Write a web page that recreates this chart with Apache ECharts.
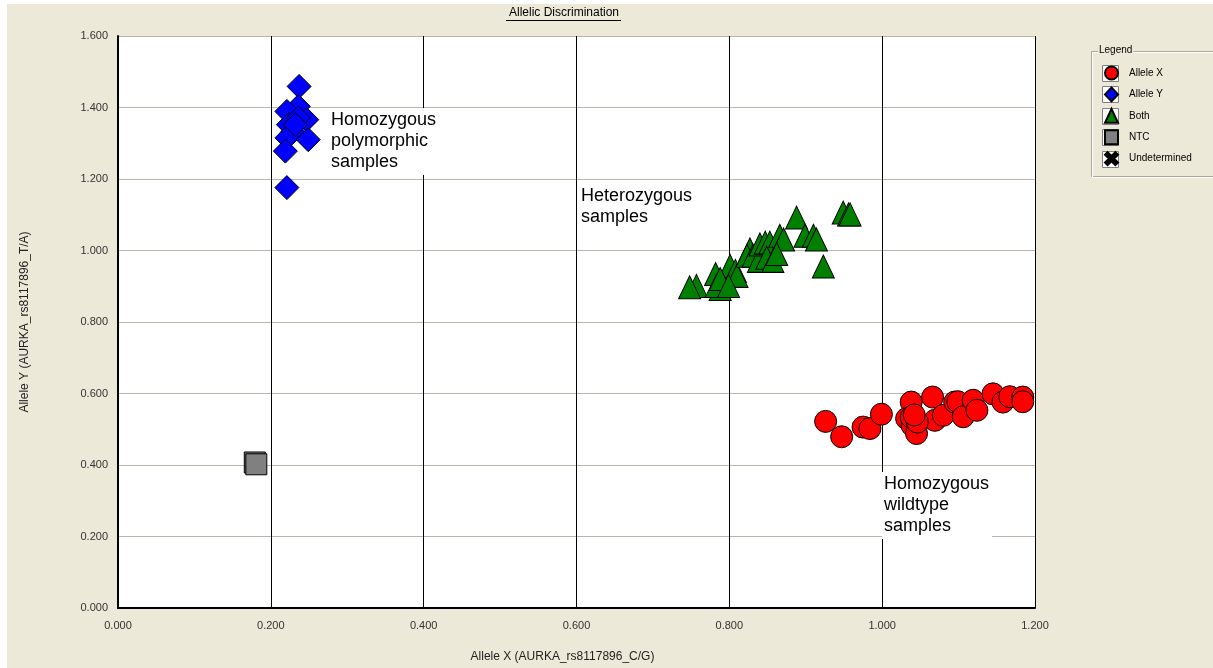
<!DOCTYPE html>
<html>
<head>
<meta charset="utf-8">
<script src="https://cdn.jsdelivr.net/npm/echarts@6/dist/echarts.min.js"></script>
<style>
html,body{margin:0;padding:0;background:#ECE9D8;}
#chart{width:1213px;height:668px;}
</style>
</head>
<body>
<div id="chart"></div>
<script>
// ---- data ----
var seriesNames = ['Allele X', 'Allele Y', 'Both', 'NTC', 'Undetermined'];

var alleleX = [
  [0.926,0.522],[0.947,0.479],[0.975,0.506],[0.984,0.502],[0.999,0.542],
  [1.038,0.576],[1.032,0.530],[1.039,0.511],[1.045,0.488],[1.038,0.534],
  [1.066,0.590],[1.069,0.525],[1.080,0.539],[1.095,0.576],[1.099,0.577],
  [1.106,0.535],[1.119,0.581],[1.124,0.553],[1.145,0.599],[1.158,0.576],
  [1.167,0.591],[1.184,0.590],[1.184,0.577],[1.046,0.520],[1.042,0.540]
];

var alleleY = [
  [0.237,1.459],[0.236,1.403],[0.221,1.389],[0.247,1.366],[0.223,1.352],
  [0.229,1.333],[0.221,1.315],[0.249,1.310],[0.219,1.278],[0.221,1.176],
  [0.236,1.371],[0.232,1.352]
];

var both = [
  [0.888,1.092],[0.899,1.041],[0.910,1.041],[0.914,1.031],[0.923,0.955],
  [0.949,1.106],[0.956,1.101],[0.958,1.101],[0.757,0.901],[0.748,0.897],
  [0.782,0.934],[0.788,0.892],[0.783,0.901],[0.801,0.957],[0.808,0.943],
  [0.810,0.929],[0.827,1.003],[0.823,0.985],[0.831,0.985],[0.838,0.971],
  [0.840,1.017],[0.847,1.022],[0.853,1.022],[0.849,0.980],[0.857,0.971],
  [0.866,1.041],[0.871,1.031],[0.862,0.990],[0.788,0.920],[0.799,0.901]
];

var ntc = [[0.179,0.407],[0.181,0.402]];
var undetermined = [];

var xTicks = [0, 0.2, 0.4, 0.6, 0.8, 1.0, 1.2];
var yTicks = [0, 0.2, 0.4, 0.6, 0.8, 1.0, 1.2, 1.4, 1.6];

var titleText = 'Allelic Discrimination';
var xName = 'Allele X (AURKA_rs8117896_C/G)';
var yName = 'Allele Y (AURKA_rs8117896_T/A)';

// annotations: text + top-left anchor in data coordinates
var annoTexts = ['Homozygous\npolymorphic\nsamples', 'Heterozygous\nsamples', 'Homozygous\nwildtype\nsamples'];
var annoAnchors = [[0.2755, 1.3995], [0.6034, 1.1873], [1.0003, 0.3818]];

// ---- chart ----
var FONT = '"Liberation Sans", Arial, sans-serif';
var chart = echarts.init(document.getElementById('chart'), null, {renderer: 'canvas'});

var crossPath = 'path://M2,0 L5,3 L8,0 L10,2 L7,5 L10,8 L8,10 L5,7 L2,10 L0,8 L3,5 L0,2 Z';

var legendTop = 65, legendStep = 21.4, legendItem = 14;

function fmt(v) { return v.toFixed(3); }

var decor = [
  {type:'rect', shape:{x:0,y:0,width:1213,height:4}, style:{fill:'#ffffff'}, z:0, silent:true},
  {type:'rect', shape:{x:0,y:0,width:7,height:668}, style:{fill:'#ffffff'}, z:0, silent:true},
  // legend group box (etched)
  {type:'rect', shape:{x:1091.5,y:51.5,width:140,height:125}, style:{fill:null, stroke:'#aca899', lineWidth:1}, z:1, silent:true},
  {type:'rect', shape:{x:1092.5,y:52.5,width:140,height:125}, style:{fill:null, stroke:'#ffffff', lineWidth:1}, z:1, silent:true},
  {type:'text', x:1098, y:45, style:{text:'Legend', fill:'#000', font:'10px ' + FONT, backgroundColor:'#ECE9D8', padding:[0,1,0,1]}, z:2, silent:true},
  // underline of the title
  {type:'line', shape:{x1:506, y1:20.5, x2:621, y2:20.5}, style:{stroke:'#000', lineWidth:1}, z:2, silent:true}
];
for (var i = 0; i < seriesNames.length; i++) {
  var cy = legendTop + 8 + i * legendStep;
  decor.push({type:'rect', shape:{x:1102.5, y:Math.round(cy - 8) + 0.5, width:16, height:16},
    style:{fill:'#ffffff', stroke:'#808080', lineWidth:1}, z:2, silent:true});
}

function scatter(name, data, symbol, size, color) {
  return {
    name: name, type: 'scatter', data: data, symbol: symbol, symbolSize: size,
    itemStyle: {color: color, borderColor: '#000', borderWidth: 1, opacity: 1},
    emphasis: {disabled: true}, z: 3
  };
}

chart.setOption({
  backgroundColor: '#ECE9D8',
  animation: false,
  textStyle: {fontFamily: FONT},
  title: {
    text: titleText, left: 564, top: 6, textAlign: 'center', padding: 0,
    textStyle: {fontSize: 12, fontWeight: 'normal', color: '#000', fontFamily: FONT, lineHeight: 14}
  },
  legend: {
    orient: 'vertical', left: 1104, top: legendTop, padding: 0,
    itemWidth: 13, itemHeight: legendItem, itemGap: legendStep - 16,
    data: seriesNames, z: 5,
    selectedMode: false,
    textStyle: {fontSize: 10, color: '#000', fontFamily: FONT, padding: [0,0,0,6], lineHeight: 16, height: 16}
  },
  grid: {
    left: 118, right: 178, top: 36, bottom: 58,
    show: true, backgroundColor: '#ffffff', borderWidth: 0
  },
  xAxis: {
    type: 'value', min: xTicks[0], max: xTicks[xTicks.length - 1], interval: 0.2,
    name: xName, nameLocation: 'middle', nameGap: 43,
    nameTextStyle: {fontSize: 12, color: '#222', fontFamily: FONT, padding: [0, 28, 0, 0]},
    axisLine: {show: true, onZero: false, lineStyle: {color: '#000', width: 2}},
    axisTick: {show: false},
    axisLabel: {formatter: fmt, fontSize: 11, color: '#333', margin: 12, fontFamily: FONT},
    splitLine: {show: true, lineStyle: {color: '#000', width: 1}}
  },
  yAxis: {
    type: 'value', min: yTicks[0], max: yTicks[yTicks.length - 1], interval: 0.2,
    name: yName, nameLocation: 'middle', nameGap: 87, nameRotate: 90,
    nameTextStyle: {fontSize: 12, color: '#222', fontFamily: FONT},
    axisLine: {show: true, onZero: false, lineStyle: {color: '#000', width: 2}},
    axisTick: {show: false},
    axisLabel: {formatter: fmt, fontSize: 11, color: '#333', margin: 10, fontFamily: FONT},
    splitLine: {show: true, lineStyle: {color: '#b9b6aa', width: 1}}
  },
  graphic: decor,
  series: [
    scatter(seriesNames[0], alleleX, 'circle', 22, '#ff0000'),
    scatter(seriesNames[1], alleleY, 'diamond', 24, '#0000ff'),
    scatter(seriesNames[2], both, 'triangle', [22, 23], '#008000'),
    scatter(seriesNames[3], ntc, 'rect', 21, '#808080'),
    scatter(seriesNames[4], undetermined, crossPath, 12, '#000000')
  ]
});

// annotation boxes placed from data coordinates
var annoGraphics = [];
for (var k = 0; k < annoTexts.length; k++) {
  var p = chart.convertToPixel({gridIndex: 0}, annoAnchors[k]);
  annoGraphics.push({
    type: 'text', x: Math.round(p[0]), y: Math.round(p[1]), z: 10, silent: true,
    style: {
      text: annoTexts[k], fill: '#000', font: '18px ' + FONT, lineHeight: 21,
      backgroundColor: '#ffffff', padding: [2, 3, 2, 2]
    }
  });
}
chart.setOption({graphic: decor.concat(annoGraphics)});
</script>
</body>
</html>
